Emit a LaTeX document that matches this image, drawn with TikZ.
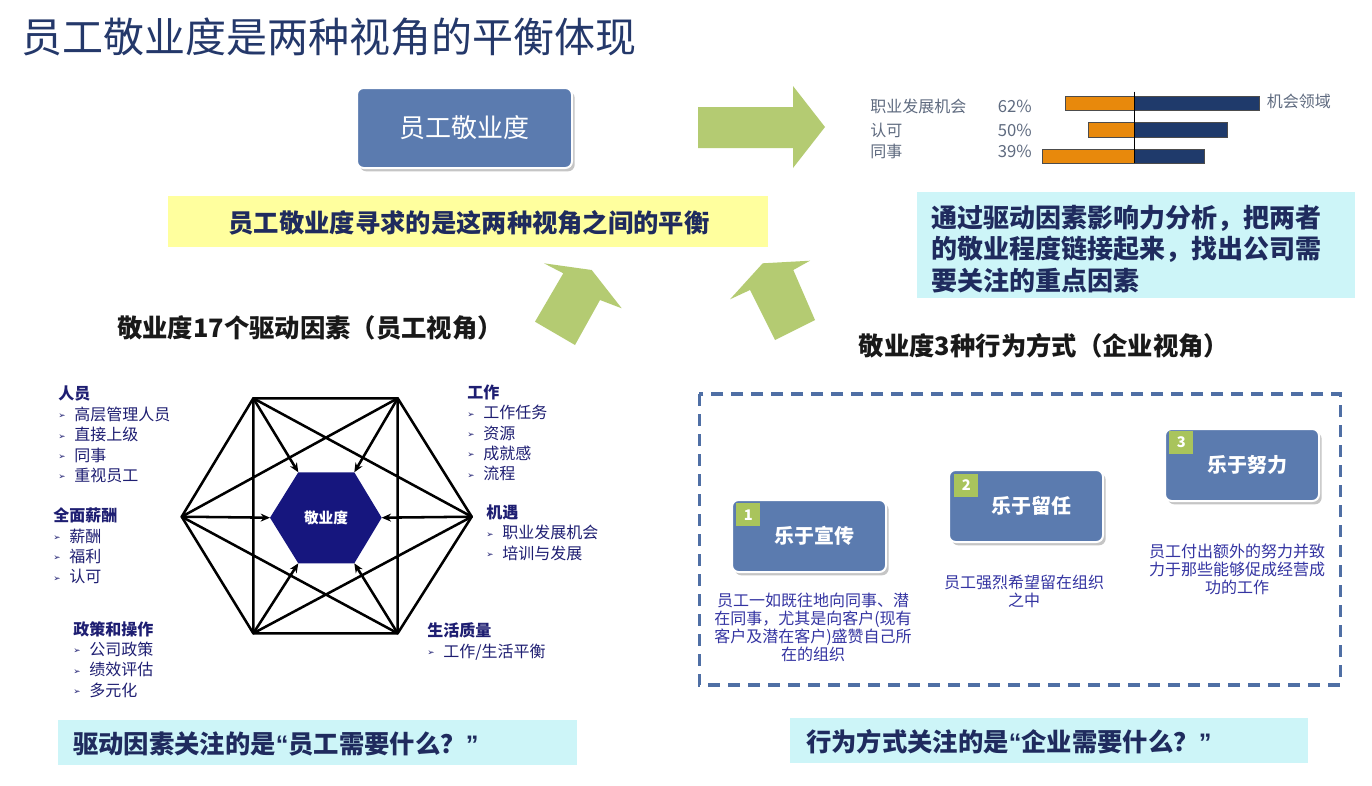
\documentclass[tikz,border=0pt]{standalone}
\usepackage{fontspec}
\setmainfont{Noto Sans CJK SC}
\newfontfamily\symfont{DejaVu Sans}
\newfontfamily\latinq{Liberation Sans}
\usetikzlibrary{arrows.meta,shadows}
\definecolor{titleblue}{HTML}{24386A}
\definecolor{boxblue}{HTML}{5B7BAF}
\definecolor{arrowgreen}{HTML}{B4CB72}
\definecolor{bandyellow}{HTML}{FFFF9E}
\definecolor{lightcyan}{HTML}{CDF5F8}
\definecolor{darknavy}{HTML}{1F2B5E}
\definecolor{barnavy}{HTML}{1F3A6B}
\definecolor{barorange}{HTML}{E8890C}
\definecolor{labelgrey}{HTML}{5F6B80}
\definecolor{hexnavy}{HTML}{16167E}
\definecolor{listnavy}{HTML}{1E1E72}
\definecolor{descblue}{HTML}{3434A2}
\definecolor{dashblue}{HTML}{4F6FA5}
\definecolor{numgreen}{HTML}{A9C45C}
\newcommand{\lbul}{\makebox[12pt][l]{\raisebox{1.2pt}{\symfont\fontsize{6.5}{6.5}\selectfont ➢}}}
\newcommand{\myoq}{{\latinq\bfseries “}}
\newcommand{\mycq}{{\latinq\bfseries ”}}
\tikzset{
  mainbox/.style={draw=white, line width=1.5pt, fill=boxblue, rounded corners=5pt, text=white,
    drop shadow={shadow xshift=2pt, shadow yshift=-2.5pt, fill=black!45, opacity=0.5}},
  boldlabel/.style={font=\fontsize{19}{22}\selectfont\bfseries, text=darknavy, inner sep=0pt},
  headlabel/.style={font=\fontsize{19}{22}\selectfont\bfseries, text=black!90, inner sep=0pt},
  grp/.style={anchor=north west, align=left, inner sep=0pt, font=\fontsize{12}{15.3}\selectfont, text=listnavy},
  hexline/.style={line width=1.9pt, line join=round, line cap=round},
  chartlabel/.style={anchor=west, inner sep=0pt, font=\fontsize{12}{14}\selectfont, text=labelgrey},
  desc/.style={align=center, inner sep=0pt, font=\fontsize{12}{13.5}\selectfont, text=descblue},
  numbox/.style={fill=numgreen, minimum width=18pt, minimum height=17.25pt, inner sep=0pt,
    text=white, font=\fontsize{11}{12}\selectfont\bfseries},
  greenarrow/.style={fill=arrowgreen},
}
\begin{document}
\begin{tikzpicture}[x=0.75pt,y=-0.75pt]
\useasboundingbox (0,0) rectangle (1372,786);
\fill[white] (0,0) rectangle (1372,786);

% title
\node[anchor=west, inner sep=0pt, font=\fontsize{30.75}{36}\selectfont, text=titleblue] (title) at (21,37) {员工敬业度是两种视角的平衡体现};

% main box
\node[mainbox, minimum width=161.25pt, minimum height=60pt, font=\fontsize{19.5}{22}\selectfont] (eng) at (464.5,128) {员工敬业度};

% yellow band
\node[fill=bandyellow, minimum width=450pt, minimum height=38.25pt, inner sep=0pt] (band) at (468,221.5) {};
\node[boldlabel] (bandtext) at (469,223) {员工敬业度寻求的是这两种视角之间的平衡};

% big right arrow
\fill[greenarrow] (698,107) -- (793,107) -- (793,86) -- (825,127) -- (793,168) -- (793,148) -- (698,148) -- cycle;

% tilted up arrows
\fill[greenarrow] (591.7,270) -- (621.7,308.3) -- (600,300) -- (575,345) -- (535,321.7) -- (563.3,273.3) -- (544,263.3) -- cycle;
\fill[greenarrow] (762.7,263.3) -- (810,260.7) -- (793.3,270) -- (815,320) -- (775,340) -- (750,290) -- (730,299.3) -- cycle;

% bar chart
\node[chartlabel] (l1) at (870,106.7) {职业发展机会};
\node[chartlabel] (l2) at (870,130) {认可};
\node[chartlabel] (l3) at (870,151.7) {同事};
\node[chartlabel, font=\fontsize{12.5}{14}\selectfont] (p1) at (997.7,106.7) {62\%};
\node[chartlabel, font=\fontsize{12.5}{14}\selectfont] (p2) at (997.7,130) {50\%};
\node[chartlabel, font=\fontsize{12.5}{14}\selectfont] (p3) at (997.7,151.7) {39\%};
\node[chartlabel] (area) at (1266.7,101.7) {机会领域};
\fill[barorange] (1065,96.7) rectangle (1134.3,110.7);
\fill[barnavy] (1134.3,96.7) rectangle (1259.3,110.7);
\draw[black!70, line width=0.6pt] (1065,96.7) rectangle (1259.3,110.7);
\fill[barorange] (1088.3,122.7) rectangle (1134.3,137.3);
\fill[barnavy] (1134.3,122.7) rectangle (1227.7,137.3);
\draw[black!70, line width=0.6pt] (1088.3,122.7) rectangle (1227.7,137.3);
\fill[barorange] (1042.3,149.3) rectangle (1134.3,163.3);
\fill[barnavy] (1134.3,149.3) rectangle (1204.3,163.3);
\draw[black!70, line width=0.6pt] (1042.3,149.3) rectangle (1204.3,163.3);
\draw[black, line width=0.8pt] (1134.3,91.7) -- (1134.3,163.3);

% cyan explanation box
\node[fill=lightcyan, minimum width=328.5pt, minimum height=79.5pt, inner sep=0pt] (expl) at (1136,245) {};
\node[anchor=west, align=left, inner sep=0pt, font=\fontsize{19.5}{23.75}\selectfont\bfseries, text=darknavy] (expltext) at (931,249) {通过驱动因素影响力分析，把两者\\的敬业程度链接起来，找出公司需\\要关注的重点因素};

% section headings
\node[headlabel] (h1) at (310,328) {敬业度17个驱动因素（员工视角）};
\node[headlabel] (h2) at (1044,346) {敬业度3种行为方式（企业视角）};

% hexagon
\coordinate (o1) at (253.3,398.3);
\coordinate (o2) at (397.7,398.3);
\coordinate (o3) at (471.7,516.7);
\coordinate (o4) at (397.7,633.3);
\coordinate (o5) at (253.3,633.3);
\coordinate (o6) at (181.7,516.7);
\coordinate (i1) at (298.3,472.3);
\coordinate (i2) at (354.3,472.3);
\coordinate (i3) at (381.7,517.7);
\coordinate (i4) at (354.3,563.3);
\coordinate (i5) at (298.3,563.3);
\coordinate (i6) at (270,517.7);
\fill[hexnavy] (i1) -- (i2) -- (i3) -- (i4) -- (i5) -- (i6) -- cycle;
\node[text=white, inner sep=0pt, font=\fontsize{11}{12}\selectfont\bfseries] (core) at (326,518) {敬业度};
\draw[hexline] (o1) -- (o2) -- (o3) -- (o4) -- (o5) -- (o6) -- cycle;
\draw[hexline] (o1) -- (o3) (o2) -- (o6) (o3) -- (o5) (o4) -- (o6) (o1) -- (o5) (o2) -- (o4);
\foreach \k in {1,...,6}{
  \draw[hexline, line cap=butt, -{Stealth[length=7pt,width=6pt]}] (o\k) -- (i\k);
}

% driver lists
\node[grp] (g1) at (58,386) {\textbf{人员}\\\lbul 高层管理人员\\\lbul 直接上级\\\lbul 同事\\\lbul 重视员工};
\node[grp] (g2) at (53,507.7) {\textbf{全面薪酬}\\\lbul 薪酬\\\lbul 福利\\\lbul 认可};
\node[grp] (g3) at (73,621) {\textbf{政策和操作}\\\lbul 公司政策\\\lbul 绩效评估\\\lbul 多元化};
\node[grp] (g4) at (467,384.4) {\textbf{工作}\\\lbul 工作任务\\\lbul 资源\\\lbul 成就感\\\lbul 流程};
\node[grp] (g5) at (486,504.4) {\textbf{机遇}\\\lbul 职业发展机会\\\lbul 培训与发展};
\node[grp] (g6) at (427,622.7) {\textbf{生活质量}\\\lbul 工作/生活平衡};

% dashed frame
\draw[dashblue, line width=2.5pt, dash pattern=on 9pt off 6pt] (699.3,394) rectangle (1340.3,685);

% behaviour boxes
\node[mainbox, minimum width=115.5pt, minimum height=54pt, font=\fontsize{15}{18}\selectfont\bfseries] (b1) at (809,536) {\hspace*{8pt}乐于宣传};
\node[mainbox, minimum width=115.5pt, minimum height=54pt, font=\fontsize{15}{18}\selectfont\bfseries] (b2) at (1026,506) {\hspace*{8pt}乐于留任};
\node[mainbox, minimum width=115.5pt, minimum height=54pt, font=\fontsize{15}{18}\selectfont\bfseries] (b3) at (1242,465) {\hspace*{8pt}乐于努力};
\node[numbox] (n1) at (748.3,514.7) {1};
\node[numbox] (n2) at (966.3,485.2) {2};
\node[numbox] (n3) at (1181.4,442.5) {3};

\node[desc] (d1) at (813,627.5) {员工一如既往地向同事、潜\\在同事，尤其是向客户(现有\\客户及潜在客户)盛赞自己所\\在的组织};
\node[desc] (d2) at (1024,591) {员工强烈希望留在组织\\之中};
\node[desc] (d3) at (1237,569) {员工付出额外的努力并致\\力于那些能够促成经营成\\功的工作};

% bottom boxes
\node[fill=lightcyan, minimum width=389.25pt, minimum height=33.75pt, inner sep=0pt] (q1) at (317.5,742.5) {};
\node[boldlabel, anchor=west] (q1text) at (73,744) {驱动因素关注的是\myoq 员工需要什么？\mycq};
\node[fill=lightcyan, minimum width=388.5pt, minimum height=33.75pt, inner sep=0pt] (q2) at (1049,740.5) {};
\node[boldlabel, anchor=west] (q2text) at (806,742) {行为方式关注的是\myoq 企业需要什么？\mycq};
\end{tikzpicture}
\end{document}
